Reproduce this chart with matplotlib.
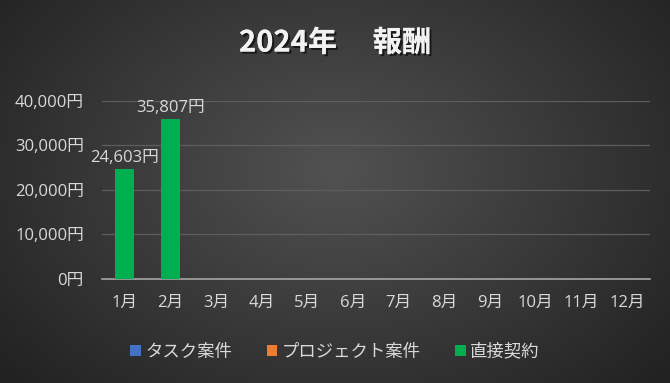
import matplotlib.pyplot as plt
import matplotlib.patheffects as pe
import numpy as np

plt.rcParams['font.family'] = ['Open Sans', 'Noto Sans CJK JP', 'DejaVu Sans']

months = ['1月', '2月', '3月', '4月', '5月', '6月', '7月', '8月', '9月', '10月', '11月', '12月']
task = [0, 0, 0, 0, 0, 0, 0, 0, 0, 0, 0, 0]
project = [0, 0, 0, 0, 0, 0, 0, 0, 0, 0, 0, 0]
direct = [24603, 35807, 0, 0, 0, 0, 0, 0, 0, 0, 0, 0]
series_names = ['タスク案件', 'プロジェクト案件', '直接契約']
colors = ['#4472C4', '#ED7D31', '#00B050']
yticks = [0, 10000, 20000, 30000, 40000]

fig = plt.figure(figsize=(6.7, 3.83), dpi=100)

# radial gradient background
bg = fig.add_axes([0, 0, 1, 1])
yy, xx = np.mgrid[0:383, 0:670]
r = np.sqrt(((xx - 335) / 420.0) ** 2 + ((yy - 170) / 300.0) ** 2)
shade = np.clip(0.32 - 0.18 * r, 0.12, 0.32)
bg.imshow(np.dstack([shade, shade, shade]), aspect='auto', extent=[0, 1, 0, 1])
bg.set_axis_off()

ax = fig.add_axes([0.152, 0.2728, 0.818, 0.4643])
ax.set_facecolor('none')
x = np.arange(len(months))
w = 0.42
for vals, name, c in zip([task, project, direct], series_names, colors):
    bars = ax.bar(x, vals, width=w, color=c, label=name, zorder=3)
for xi, v in zip(x, direct):
    if v > 0:
        ax.text(xi, v + 700, f'{v:,}円', ha='center', va='bottom', color='#d9d9d9', fontsize=12)

ax.set_xlim(-0.5, 11.5)
ax.set_ylim(0, 40000)
ax.set_yticks(yticks)
ax.set_yticklabels([f'{v:,}円' for v in yticks])
ax.set_xticks(x)
ax.set_xticklabels(months)
ax.tick_params(length=0, colors='#d9d9d9', labelsize=12)
ax.tick_params(axis='x', pad=12)
ax.tick_params(axis='y', pad=13)
for s in ['top', 'right', 'left']:
    ax.spines[s].set_visible(False)
ax.spines['bottom'].set_color('#a6a6a6')
ax.spines['bottom'].set_linewidth(1.2)
ax.grid(axis='y', color='#5e5e5e', linewidth=0.9, zorder=0)

fig.text(0.5, 0.889, '2024年\u3000 報酬', ha='center', va='center', color='#f2f2f2',
         fontsize=21, fontweight='bold', family=['Noto Sans CJK JP', 'DejaVu Sans'],
         path_effects=[pe.withSimplePatchShadow(offset=(1.5, -1.5), shadow_rgbFace='black', alpha=0.6), pe.Normal()])

leg = fig.legend(loc='center', bbox_to_anchor=(0.5, 0.08), ncol=3, frameon=False,
                 fontsize=12.5, labelcolor='#d9d9d9', handlelength=0.6, handleheight=0.6,
                 handletextpad=0.25, columnspacing=2.0)

fig.savefig('out.png', dpi=100)
